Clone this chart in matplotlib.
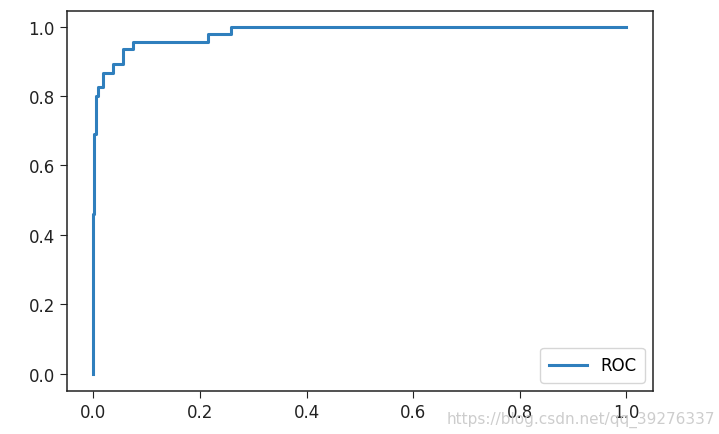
import matplotlib
matplotlib.use("Agg")
import matplotlib.pyplot as plt

# puntos de la curva ROC (escalones)
fpr = [0.0, 0.0, 0.002, 0.002, 0.005, 0.005, 0.009, 0.009, 0.018, 0.018,
       0.037, 0.037, 0.056, 0.056, 0.074, 0.074, 0.215, 0.215, 0.258, 0.258, 1.0]
tpr = [0.0, 0.46, 0.46, 0.69, 0.69, 0.80, 0.80, 0.827, 0.827, 0.865,
       0.865, 0.891, 0.891, 0.935, 0.935, 0.956, 0.956, 0.978, 0.978, 1.0, 1.0]
ticks = [0.0, 0.2, 0.4, 0.6, 0.8, 1.0]

fig = plt.figure(figsize=(7.19, 4.35), dpi=100)
ax = fig.add_axes([66.7 / 719, 1 - 392 / 435, (653 - 66.7) / 719, (392 - 12) / 435])

ax.plot(fpr, tpr, color='#2f7fbd', linewidth=2.2, label='ROC')
ax.set_xlim(-0.05, 1.05)
ax.set_ylim(-0.05, 1.045)
ax.set_xticks(ticks)
ax.set_yticks(ticks)
ax.tick_params(labelsize=12, length=5, colors='#222222')
for s in ax.spines.values():
    s.set_linewidth(1.1)
    s.set_color('#222222')

ax.legend(loc='lower right', fontsize=12, handlelength=2.3, borderpad=0.5)

# marca de agua
fig.text(0.995, 0.035, 'https://blog.csdn.net/qq_39276337', ha='right', va='center',
         fontsize=11, color='#c8c8c8', alpha=0.9)

fig.savefig('out.png', dpi=100)
